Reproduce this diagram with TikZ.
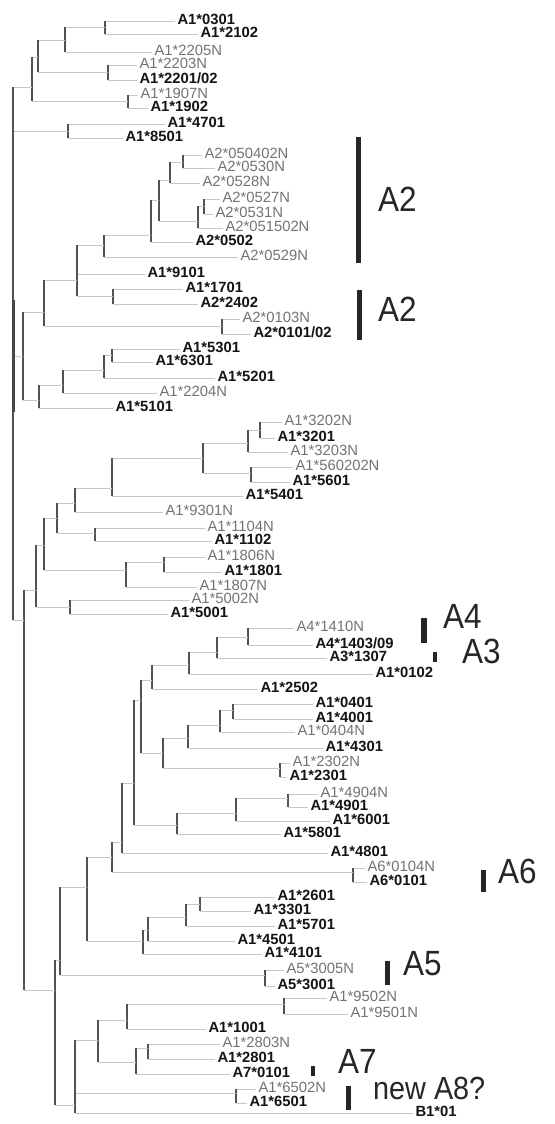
\documentclass[tikz,border=0pt]{standalone}
\usepackage{fontspec}
\setmainfont{Liberation Sans}
\tikzset{
  hline/.style={draw=black!22, line width=0.7pt},
  vline/.style={draw=black!68, line width=1.9pt},
  trunkbold/.style={draw=black!72, line width=3pt},
  inode/.style={inner sep=0pt, minimum size=0pt, outer sep=0pt},
  leaf/.style={anchor=west, inner sep=0pt, outer xsep=2.5pt, text height=0.72em, text depth=0pt},
  al/.style={leaf, font=\fontsize{14.8}{15}\selectfont\bfseries, text=black!92},
  nl/.style={leaf, font=\fontsize{14.8}{15}\selectfont, text=black!55},
  cbar/.style={fill=black!85, inner sep=0pt, minimum width=5pt},
  big/.style={anchor=west, inner sep=0pt, text height=0.72em, text depth=0pt, font=\fontsize{35}{35}\selectfont, text=black!85},
}
% horizontal branches from a parent to each child, then the parent's vertical bar
\newcommand\clade[2]{%
  \foreach \c [count=\i] in {#2}{%
    \ifnum\i=1 \xdef\firstc{\c}\fi
    \xdef\lastc{\c}%
    \draw[hline] (#1 |- \c.west) -- (\c.west);
  }%
  \draw[vline] (#1 |- \firstc.west) -- (#1 |- \lastc.west);
}
\begin{document}
\begin{tikzpicture}[x=1pt,y=-1pt]
\fill[white] (0,0) rectangle (554,1124);
\useasboundingbox (0,0) rectangle (554,1124);

% ---------- leaves ----------
\node[al] (a1x0301) at (175,21) {A1*0301};
\node[al] (a1x2102) at (198,34) {A1*2102};
\node[nl] (a1x2205N) at (152,52) {A1*2205N};
\node[nl] (a1x2203N) at (137,65) {A1*2203N};
\node[al] (a1x2201) at (137,80) {A1*2201/02};
\node[nl] (a1x1907N) at (138,95) {A1*1907N};
\node[al] (a1x1902) at (148,108) {A1*1902};
\node[al] (a1x4701) at (165,124) {A1*4701};
\node[al] (a1x8501) at (123,138) {A1*8501};
\node[nl] (a2x050402N) at (202,155) {A2*050402N};
\node[nl] (a2x0530N) at (215,168) {A2*0530N};
\node[nl] (a2x0528N) at (200,183) {A2*0528N};
\node[nl] (a2x0527N) at (220,199) {A2*0527N};
\node[nl] (a2x0531N) at (213,214) {A2*0531N};
\node[nl] (a2x051502N) at (223,228) {A2*051502N};
\node[al] (a2x0502) at (193,242) {A2*0502};
\node[nl] (a2x0529N) at (238,257) {A2*0529N};
\node[al] (a1x9101) at (145,274) {A1*9101};
\node[al] (a1x1701) at (183,289) {A1*1701};
\node[al] (a2x2402) at (198,304) {A2*2402};
\node[nl] (a2x0103N) at (240,319) {A2*0103N};
\node[al] (a2x0101) at (251,334) {A2*0101/02};
\node[al] (a1x5301) at (180,349) {A1*5301};
\node[al] (a1x6301) at (153,362) {A1*6301};
\node[al] (a1x5201) at (215,378) {A1*5201};
\node[nl] (a1x2204N) at (157,393) {A1*2204N};
\node[al] (a1x5101) at (113,408) {A1*5101};
\node[nl] (a1x3202N) at (282,422) {A1*3202N};
\node[al] (a1x3201) at (275,438) {A1*3201};
\node[nl] (a1x3203N) at (288,452) {A1*3203N};
\node[nl] (a1x560202N) at (293,467) {A1*560202N};
\node[al] (a1x5601) at (290,482) {A1*5601};
\node[al] (a1x5401) at (243,496) {A1*5401};
\node[nl] (a1x9301N) at (163,512) {A1*9301N};
\node[nl] (a1x1104N) at (205,528) {A1*1104N};
\node[al] (a1x1102) at (212,541) {A1*1102};
\node[nl] (a1x1806N) at (205,557) {A1*1806N};
\node[al] (a1x1801) at (222,572) {A1*1801};
\node[nl] (a1x1807N) at (197,587) {A1*1807N};
\node[nl] (a1x5002N) at (189,600) {A1*5002N};
\node[al] (a1x5001) at (168,614) {A1*5001};
\node[nl] (a4x1410N) at (294,628) {A4*1410N};
\node[al] (a4x1403) at (313,645) {A4*1403/09};
\node[al] (a3x1307) at (327,658) {A3*1307};
\node[al] (a1x0102) at (373,674) {A1*0102};
\node[al] (a1x2502) at (258,689) {A1*2502};
\node[al] (a1x0401) at (313,704) {A1*0401};
\node[al] (a1x4001) at (313,719) {A1*4001};
\node[nl] (a1x0404N) at (295,732) {A1*0404N};
\node[al] (a1x4301) at (323,748) {A1*4301};
\node[nl] (a1x2302N) at (290,763) {A1*2302N};
\node[al] (a1x2301) at (287,777) {A1*2301};
\node[nl] (a1x4904N) at (318,794) {A1*4904N};
\node[al] (a1x4901) at (308,807) {A1*4901};
\node[al] (a1x6001) at (330,821) {A1*6001};
\node[al] (a1x5801) at (281,834) {A1*5801};
\node[al] (a1x4801) at (328,853) {A1*4801};
\node[nl] (a6x0104N) at (365,868) {A6*0104N};
\node[al] (a6x0101) at (367,882) {A6*0101};
\node[al] (a1x2601) at (275,897) {A1*2601};
\node[al] (a1x3301) at (251,911) {A1*3301};
\node[al] (a1x5701) at (275,926) {A1*5701};
\node[al] (a1x4501) at (235,941) {A1*4501};
\node[al] (a1x4101) at (262,954) {A1*4101};
\node[nl] (a5x3005N) at (284,970) {A5*3005N};
\node[al] (a5x3001) at (275,986) {A5*3001};
\node[nl] (a1x9502N) at (327,998) {A1*9502N};
\node[nl] (a1x9501N) at (348,1014) {A1*9501N};
\node[al] (a1x1001) at (206,1029) {A1*1001};
\node[nl] (a1x2803N) at (220,1044) {A1*2803N};
\node[al] (a1x2801) at (215,1059) {A1*2801};
\node[al] (a7x0101) at (230,1074) {A7*0101};
\node[nl] (a1x6502N) at (256,1089) {A1*6502N};
\node[al] (a1x6501) at (247,1103) {A1*6501};
\node[al] (b1x01) at (413,1113) {B1*01};

% ---------- internal nodes ----------
\foreach \n/\x/\y in {
  n1/105/27, n2/65/40, n4/108/72, n3/38/57, n6/128/101, n5/32/87, n7/68/131,
  a1n/183/162, a2n/170/180, a3n/204/206, a4n/198/221, a5n/159/200, a6n/151/235,
  a7n/104/245, a8n/113/296, a9n/77/280, a10n/222/326, a11n/44/312,
  b1n/112/355, b2n/104/370, b3n/63/385, b4n/39/400, b5n/23/356,
  c1n/260/430, c2n/248/443, c3n/251/473, c4n/203/458, c5n/112/488, c6n/75/503,
  c7n/95/533, c8n/57/518, d1n/164/562, d2n/126/570, d3n/44/545, d4n/70/607, d5n/36/590,
  e1n/248/637, e2n/217/652, e3n/189/665, e4n/152/680,
  f1n/233/710, f2n/220/725, f3n/188/738, f4n/280/768, f5n/163/753, e5n/141/700,
  g1n/288/798, g2n/236/813, g3n/177/825, e6n/134/783, e7n/122/842, h1n/353/872, e8n/112/857,
  i1n/200/904, i2n/186/917, i3n/148/930, i4n/143/941, e9n/87/887,
  j1n/265/975, e10n/60/960, k1n/284/1004, k2n/127/1020, l1n/148/1048, l2n/136/1062,
  k3n/98/1040, m1n/236/1093, k4n/75/1105, x55n/55/990, x24n/24/620, root/13/350}
  {\node[inode] (\n) at (\x,\y) {};}

% ---------- branches ----------
\clade{n1}{a1x0301,a1x2102}
\clade{n2}{n1,a1x2205N}
\clade{n4}{a1x2203N,a1x2201}
\clade{n3}{n2,n4}
\clade{n6}{a1x1907N,a1x1902}
\clade{n5}{n3,n6}
\clade{n7}{a1x4701,a1x8501}
\clade{a1n}{a2x050402N,a2x0530N}
\clade{a2n}{a1n,a2x0528N}
\clade{a3n}{a2x0527N,a2x0531N}
\clade{a4n}{a3n,a2x051502N}
\clade{a5n}{a2n,a4n}
\clade{a6n}{a5n,a2x0502}
\clade{a7n}{a6n,a2x0529N}
\clade{a8n}{a1x1701,a2x2402}
\clade{a9n}{a7n,a1x9101,a8n}
\clade{a10n}{a2x0103N,a2x0101}
\clade{a11n}{a9n,a10n}
\clade{b1n}{a1x5301,a1x6301}
\clade{b2n}{b1n,a1x5201}
\clade{b3n}{b2n,a1x2204N}
\clade{b4n}{b3n,a1x5101}
\clade{b5n}{a11n,b4n}
\clade{c1n}{a1x3202N,a1x3201}
\clade{c2n}{c1n,a1x3203N}
\clade{c3n}{a1x560202N,a1x5601}
\clade{c4n}{c2n,c3n}
\clade{c5n}{c4n,a1x5401}
\clade{c6n}{c5n,a1x9301N}
\clade{c7n}{a1x1104N,a1x1102}
\clade{c8n}{c6n,c7n}
\clade{d1n}{a1x1806N,a1x1801}
\clade{d2n}{d1n,a1x1807N}
\clade{d3n}{c8n,d2n}
\clade{d4n}{a1x5002N,a1x5001}
\clade{d5n}{d3n,d4n}
\clade{e1n}{a4x1410N,a4x1403}
\clade{e2n}{e1n,a3x1307}
\clade{e3n}{e2n,a1x0102}
\clade{e4n}{e3n,a1x2502}
\clade{f1n}{a1x0401,a1x4001}
\clade{f2n}{f1n,a1x0404N}
\clade{f3n}{f2n,a1x4301}
\clade{f4n}{a1x2302N,a1x2301}
\clade{f5n}{f3n,f4n}
\clade{e5n}{e4n,f5n}
\clade{g1n}{a1x4904N,a1x4901}
\clade{g2n}{g1n,a1x6001}
\clade{g3n}{g2n,a1x5801}
\clade{e6n}{e5n,g3n}
\clade{e7n}{e6n,a1x4801}
\clade{h1n}{a6x0104N,a6x0101}
\clade{e8n}{e7n,h1n}
\clade{i1n}{a1x2601,a1x3301}
\clade{i2n}{i1n,a1x5701}
\clade{i3n}{i2n,a1x4501}
\clade{i4n}{i3n,a1x4101}
\clade{e9n}{e8n,i4n}
\clade{j1n}{a5x3005N,a5x3001}
\clade{e10n}{e9n,j1n}
\clade{k1n}{a1x9502N,a1x9501N}
\clade{k2n}{k1n,a1x1001}
\clade{l1n}{a1x2803N,a1x2801}
\clade{l2n}{l1n,a7x0101}
\clade{k3n}{k2n,l2n}
\clade{m1n}{a1x6502N,a1x6501}
\clade{k4n}{k3n,m1n,b1x01}
\clade{x55n}{e10n,k4n}
\clade{x24n}{d5n,x55n}
\clade{root}{n5,n7,b5n,x24n}
\coordinate (rt1) at (13,300);
\coordinate (rt2) at (13,412);
\draw[trunkbold] (rt1) -- (rt2);

% ---------- lineage bars and names ----------
\node[cbar, minimum height=126pt] (barA2a) at (358.5,200) {};
\node[cbar, minimum height=50pt] (barA2b) at (359,315) {};
\node[cbar, minimum height=25pt, minimum width=6pt] (barA4) at (423.5,630) {};
\node[cbar, minimum height=10pt, minimum width=4pt] (barA3) at (435,657) {};
\node[cbar, minimum height=22pt] (barA6) at (483,881) {};
\node[cbar, minimum height=24pt] (barA5) at (387,973) {};
\node[cbar, minimum height=10pt, minimum width=4pt] (barA7) at (313,1071) {};
\node[cbar, minimum height=24pt] (barA8) at (348,1098) {};

\node[big] (tA2a) at (378,208) {\scalebox{0.9}[1]{A2}};
\node[big] (tA2b) at (378,318) {\scalebox{0.9}[1]{A2}};
\node[big] (tA4) at (443,625) {\scalebox{0.9}[1]{A4}};
\node[big] (tA3) at (462,660) {\scalebox{0.9}[1]{A3}};
\node[big] (tA6) at (498,880) {\scalebox{0.9}[1]{A6}};
\node[big] (tA5) at (403,972) {\scalebox{0.9}[1]{A5}};
\node[big] (tA7) at (338,1070) {\scalebox{0.9}[1]{A7}};
\node[big, font=\fontsize{32}{32}\selectfont] (tA8) at (373,1096) {\scalebox{0.9}[1]{new A8?}};
\end{tikzpicture}
\end{document}
